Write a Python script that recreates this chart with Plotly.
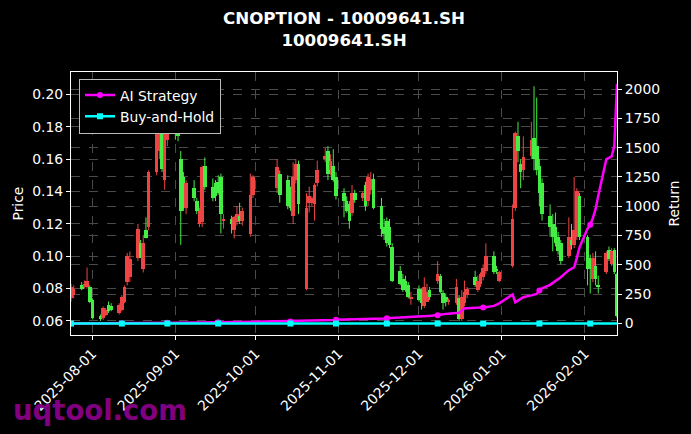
import pandas as pd
import plotly.graph_objects as go

# ---------------- data ----------------
holidays = ["2025-10-01", "2025-10-02", "2025-10-03", "2025-10-06", "2025-10-07",
            "2025-10-08", "2026-01-01", "2026-01-02"]
dates = [d for d in pd.bdate_range("2025-07-24", "2026-02-13")
         if d.strftime("%Y-%m-%d") not in holidays]

open_ = [
    # Jul
    .0745, .076, .082, .081, .081, .081,
    # Aug
    .073, .063, .062, .064, .070, .069, .065, .067, .072, .084, .087, .099, .108, .092, .116, .118,
    .152, .165, .195, .147, .172,
    # Sep
    .184, .180, .160, .149, .130, .142, .134, .120, .121, .156, .143, .145, .146, .149, .122, .123,
    .116, .121, .125, .122, .114, .138,
    # Oct
    .142, .151, .147, .140, .125, .147, .157, .080, .133, .133, .132, .145, .160, .165, .153, .156, .149,
    # Nov
    .139, .134, .132, .127, .139, .136, .144, .134, .141, .148, .131, .118, .122, .118, .106, .091,
    .086, .085, .082, .074,
    # Dec
    .080, .079, .069, .072, .079, .085, .088, .077, .075, .072, .071, .074, .061, .071, .076, .087,
    .079, .083, .087, .091, .100, .092, .085,
    # Jan
    .094, .130, .174, .157, .153, .162, .173, .168, .156, .145, .125, .120, .118, .112, .108, .100,
    .110, .107, .112, .137,
    # Feb
    .112, .099, .086, .094, .082, .090, .104, .095, .104, .089,
]
high = [
    .083, .082, .084, .085, .093, .082,
    .074, .064, .069, .068, .072, .071, .071, .076, .082, .102, .103, .120, .110, .113, .124, .153,
    .196, .197, .198, .179, .186,
    .190, .186, .165, .152, .147, .147, .136, .130, .156, .161, .148, .147, .150, .151, .126, .125,
    .125, .131, .133, .130, .151, .150,
    .160, .153, .150, .143, .158, .160, .159, .139, .143, .137, .145, .159, .167, .168, .163, .166, .152,
    .142, .137, .134, .144, .141, .140, .146, .151, .152, .151, .136, .123, .124, .123, .108, .094,
    .089, .088, .084, .078,
    .082, .080, .087, .083, .081, .097, .089, .079, .077, .074, .086, .076, .079, .085, .081, .091,
    .088, .090, .095, .108, .103, .094, .091,
    .132, .177, .183, .160, .174, .183, .205, .198, .160, .148, .132, .126, .127, .115, .110, .124,
    .120, .149, .142, .139,
    .113, .101, .102, .103, .088, .103, .106, .105, .105, .090,
]
low = [
    .072, .074, .079, .080, .080, .071,
    .061, .060, .0605, .063, .065, .066, .064, .066, .071, .082, .084, .097, .100, .090, .111, .116,
    .150, .160, .152, .141, .168,
    .172, .171, .107, .128, .126, .134, .126, .118, .118, .141, .134, .134, .138, .114, .117, .114,
    .111, .119, .120, .119, .112, .136,
    .139, .133, .129, .128, .120, .145, .126, .079, .127, .131, .122, .143, .158, .147, .150, .146, .135,
    .124, .127, .117, .125, .133, .134, .128, .131, .138, .129, .112, .110, .106, .105, .084, .082,
    .078, .078, .074, .070,
    .072, .067, .068, .072, .073, .083, .077, .067, .069, .070, .070, .060, .060, .069, .074, .081,
    .078, .081, .085, .089, .089, .089, .084,
    .093, .128, .158, .142, .147, .160, .153, .150, .131, .122, .112, .103, .106, .101, .095, .099,
    .104, .105, .110, .110,
    .082, .077, .084, .082, .077, .089, .097, .094, .089, .062,
]
close = [
    .081, .080, .080, .083, .085, .072,
    .062, .0615, .068, .067, .066, .067, .070, .075, .081, .100, .098, .117, .099, .108, .111, .152,
    .184, .186, .154, .177, .177,
    .176, .174, .128, .130, .145, .136, .128, .128, .155, .143, .136, .137, .139, .126, .123, .120,
    .124, .126, .122, .128, .138, .149,
    .155, .138, .131, .130, .149, .157, .132, .130, .137, .136, .144, .153, .162, .151, .159, .147, .137,
    .134, .128, .122, .139, .135, .139, .131, .149, .148, .130, .117, .114, .108, .107, .085, .083,
    .079, .079, .075, .075,
    .073, .071, .081, .078, .075, .089, .078, .071, .072, .073, .081, .061, .075, .078, .080, .082,
    .085, .089, .093, .100, .090, .091, .090,
    .123, .176, .165, .152, .161, .172, .160, .153, .139, .126, .118, .112, .108, .103, .097, .112,
    .107, .116, .140, .112,
    .092, .092, .099, .086, .081, .102, .098, .103, .090, .063,
]

ai_strategy = [
    0, 0, 0, 0.5, 0.5, 1,
    1, 1, 1.5, 1.5, 2, 2, 2.5, 2.5, 3, 3, 3.5, 3.5, 4, 4, 4.5, 4.5, 5, 5, 5.5, 5.5, 6,
    6, 6.5, 6.5, 7, 7, 7.5, 7.5, 8, 8, 8.5, 9, 9.5, 10, 10.5, 11, 11.5, 12, 12.5, 13, 13.5, 14, 14.5,
    15, 16, 17, 18, 19, 20, 21, 22, 23, 24, 25, 26, 27, 28, 29, 30, 31,
    32, 33, 34, 35, 36, 37, 38, 39, 40, 41, 42, 43, 45, 46, 47, 48, 50, 51, 53, 55,
    57, 59, 61, 63, 65, 70, 74, 78, 82, 85, 88, 92, 110, 128, 130, 132, 134, 135, 136, 138, 150, 160, 172,
    247, 181, 195, 210, 224, 240, 247, 252, 281, 300, 330, 345, 362, 380, 395, 455, 465, 480, 560, 650,
    810, 843, 900, 975, 1090, 1400, 1412, 1425, 1515, 2045,
]
buy_and_hold = [
    0, 0, 0, 0, 0, 0,
    0, 0, 0, 0, 0, 0, 0, 0, 0, 0, 0, 0, 0, 0, 0, 0, 0, 0, 0, 0, 0,
    0, 0, 0, 0, 0, 0, 0, 0, 0, 0, 0, 0, 0, 0, 0, 0, 0, 0, 0, 0, 0, 0,
    0, 0, 0, 0, 0, 0, 0, 0, 0, 0, 0, 0, 0, 0, 0, 0, 0,
    0, 0, 0, 0, 0, 0, 0, 0, 0, 0, 0, 0, 0, 0, 0, 0, 0, 0, 0, 0,
    0, 0, 0, 0, 0, 0, 0, 0, 0, 0, 0, 0, 0, 0, 0, 0, 0, 0, 0, 0, 0, 0, 0,
    0, 0, 0, 0, 0, 0, 0, 0, 0, 0, 0, 0, 0, 0, 0, 0, 0, 0, 0, 0,
    0, 0, 0, 0, 0, 0, 0, 0, 0, 0,
]

title_text = "<b>CNOPTION - 10009641.SH</b><br><b>10009641.SH</b>"
price_ticks = [0.06, 0.08, 0.10, 0.12, 0.14, 0.16, 0.18, 0.20]
return_ticks = [0, 250, 500, 750, 1000, 1250, 1500, 1750, 2000]

# ---------------- styling ----------------
UP = "#ee4444"
DOWN = "#44ee44"
FONT = "DejaVu Sans"
FS = 13.9
DAY_MS = 86400000

up_flags = [c >= o for o, c in zip(open_, close)]
body_colors = [UP if u else DOWN for u in up_flags]

fig = go.Figure()

# candle bodies
fig.add_trace(go.Bar(
    x=dates,
    y=[abs(c - o) for o, c in zip(open_, close)],
    base=[min(o, c) for o, c in zip(open_, close)],
    width=1.35 * DAY_MS,
    marker=dict(color=body_colors, line=dict(width=0)),
    showlegend=False, hoverinfo="skip",
))

# wicks
for flag, col in [(True, UP), (False, DOWN)]:
    wx, wy = [], []
    for d, lo, hi, u in zip(dates, low, high, up_flags):
        if u == flag:
            wx += [d, d, None]
            wy += [lo, hi, None]
    fig.add_trace(go.Scatter(x=wx, y=wy, mode="lines",
                             line=dict(color=col, width=1),
                             showlegend=False, hoverinfo="skip"))

mark_idx = list(range(0, len(dates), 13))

series = [
    ("AI Strategy", ai_strategy, "#ff00ff", "circle"),
    ("Buy-and-Hold", buy_and_hold, "#00ffff", "square"),
]
for name, vals, col, sym in series:
    fig.add_trace(go.Scatter(x=dates, y=vals, yaxis="y2", mode="lines",
                             line=dict(color=col, width=2.5),
                             showlegend=False, legendgroup=name))
    fig.add_trace(go.Scatter(x=[dates[i] for i in mark_idx], y=[vals[i] for i in mark_idx],
                             yaxis="y2", mode="markers",
                             marker=dict(color=col, size=6, symbol=sym),
                             showlegend=False, legendgroup=name))
    fig.add_trace(go.Scatter(x=[None], y=[None], yaxis="y2", mode="lines+markers",
                             name=name, legendgroup=name,
                             line=dict(color=col, width=2.5),
                             marker=dict(color=col, size=6, symbol=sym)))

grid = dict(showgrid=True, gridcolor="#4a4a4a", griddash="dash", gridwidth=0.8)
axis_common = dict(ticks="outside", ticklen=4, tickcolor="white", tickwidth=1,
                   showline=True, linecolor="white", linewidth=1, zeroline=False,
                   automargin=False,
                   tickfont=dict(family=FONT, size=FS, color="white"))

fig.update_layout(
    width=691, height=434,
    paper_bgcolor="black", plot_bgcolor="black",
    margin=dict(l=71, r=74, t=72, b=99, autoexpand=False),
    font=dict(family=FONT, color="white", size=FS),
    title=dict(text=title_text, x=0.5, xanchor="center", xref="paper",
               y=1 - 24 / 434, yanchor="middle",
               font=dict(family=FONT, size=16.7, color="white")),
    barmode="overlay", bargap=0,
    showlegend=True,
    legend=dict(x=0.0147, y=0.975, xanchor="left", yanchor="top",
                bgcolor="black", bordercolor="#bbbbbb", borderwidth=1,
                tracegroupgap=0,
                font=dict(family=FONT, size=FS, color="white")),
    xaxis=dict(type="date", range=[dates[0], dates[-1]],
               tickformat="%Y-%m-%d", dtick="M1", tick0="2025-08-01",
               tickangle=-45, mirror=True, **grid, **axis_common),
    yaxis=dict(range=[0.05135, 0.21377], tickvals=price_ticks,
               ticktext=[f"{v:.2f}" for v in price_ticks], **grid, **axis_common),
    yaxis2=dict(range=[-98, 2145], overlaying="y", side="right",
                tickvals=return_ticks, ticktext=[str(v) for v in return_ticks],
                **grid, **axis_common),
    annotations=[
        dict(text="Price", xref="paper", yref="paper", x=(17 - 71) / 546, y=0.5,
             xanchor="center", yanchor="middle", textangle=-90, showarrow=False,
             font=dict(family=FONT, size=FS, color="white")),
        dict(text="Return", xref="paper", yref="paper", x=(673 - 71) / 546, y=0.5,
             xanchor="center", yanchor="middle", textangle=-90, showarrow=False,
             font=dict(family=FONT, size=FS, color="white")),
        dict(text="<b>uqtool.com</b>", xref="paper", yref="paper",
             x=(11 - 71) / 546, y=(335 - 410) / 263, xanchor="left", yanchor="middle",
             showarrow=False, font=dict(family=FONT, size=27.5, color="#800080")),
    ],
)

fig.write_html("out.html", config={"displayModeBar": False},
               post_script="document.body.style.margin='0';")
